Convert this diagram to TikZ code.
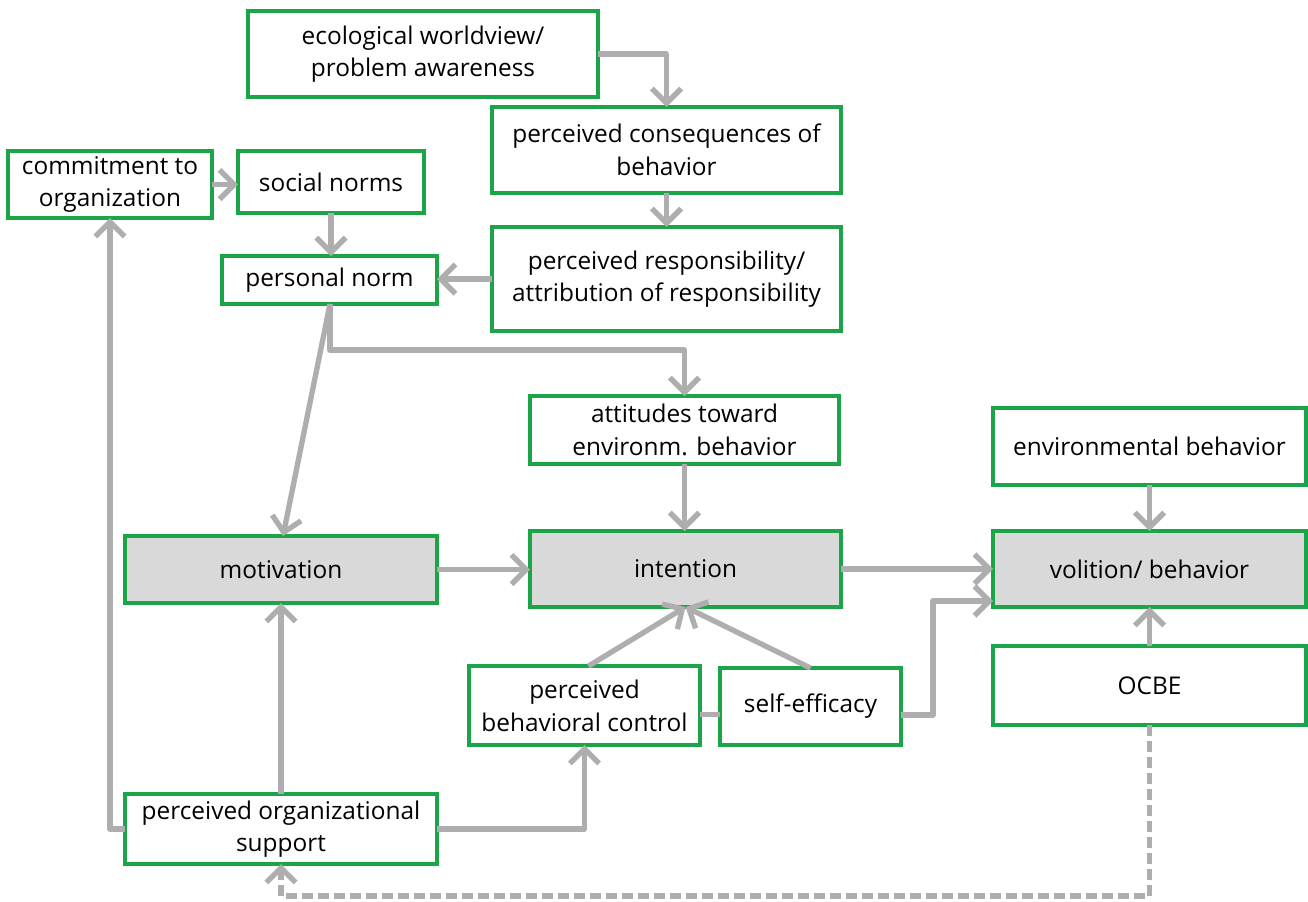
\documentclass[tikz,border=0pt]{standalone}
\usepackage{fontspec}
\setmainfont{Open Sans}
\usetikzlibrary{arrows.meta,calc}
\definecolor{bgreen}{HTML}{1BA548}
\definecolor{lgray}{HTML}{AEAEAF}
\definecolor{bfill}{HTML}{D9D9D9}
\newcommand\mybox[7]{%
 \pgfmathsetmacro\cx{(#3+#5)/2}\pgfmathsetmacro\cy{(#4+#6)/2}%
 \pgfmathsetmacro\bw{(#5-#3)*0.75}\pgfmathsetmacro\bh{(#6-#4)*0.75}%
 \node[#1, minimum width=\bw pt, minimum height=\bh pt] (#2) at (\cx,\cy) {#7};}
\begin{document}
\begin{tikzpicture}[x=0.75pt,y=-0.75pt,
  box/.style={draw=bgreen, line width=2.3pt, fill=white, inner sep=0pt, outer sep=0pt,
    align=center, font=\fontsize{18.3}{24.5}\selectfont, text=black},
  gbox/.style={box, fill=bfill},
  conn/.style={draw=lgray, line width=4pt, line join=round,
    -{Straight Barb[length=11pt,width=22pt,line width=4pt]}},
  line/.style={draw=lgray, line width=4pt, line join=round},
  dconn/.style={conn, dash pattern=on 8pt off 4pt}]
\useasboundingbox (0,0) rectangle (1308,901);
\mybox{box}{eco}{248}{11}{598}{97}{ecological worldview/\\problem awareness}
\mybox{box}{cons}{492}{107}{841}{193}{perceived consequences of\\behavior}
\mybox{box}{resp}{492}{227}{841}{331}{perceived responsibility/\\attribution of responsibility}
\mybox{box}{com}{8}{151}{212}{218}{commitment to\\organization}
\mybox{box}{sn}{238}{151}{424}{213}{social norms}
\mybox{box}{pn}{222}{256}{437}{304}{personal norm}
\mybox{box}{att}{530}{396}{839}{464}{attitudes toward\\environm. behavior}
\mybox{box}{env}{993}{408}{1306}{485}{environmental behavior}
\mybox{gbox}{mot}{125}{536}{437}{603}{motivation}
\mybox{gbox}{int}{530}{531}{841}{607}{intention}
\mybox{gbox}{vol}{993}{531}{1306}{607}{volition/ behavior}
\mybox{box}{pbc}{469}{666}{700}{745}{perceived\\behavioral control}
\mybox{box}{se}{720}{668}{901}{745}{self-efficacy}
\mybox{box}{ocbe}{993}{646}{1306}{725}{OCBE}
\mybox{box}{pos}{125}{794}{437}{864}{perceived organizational\\support}

\coordinate (pnb) at (330,304);
\coordinate (pnbr) at (330,350);
\coordinate (dcorner) at (1149.5,896);
\coordinate (secorner) at (933,715);

\draw[conn] (eco.east) -| (cons.north);
\draw[conn] (cons.south) -- (resp.north);
\draw[conn] (resp.west) -- (resp.west -| pn.east);
\draw[conn] (com.east) -- (com.east -| sn.west);
\draw[conn] (sn.south) -- (sn.south |- pn.north);
\draw[conn] (pnb) -- (pnbr) -| (att.north);
\draw[conn] (pnb) -- ($(mot.north)+(2,0)$);
\draw[conn] (att.south) -- (att.south |- int.north);
\draw[conn] (mot.east) -- (mot.east -| int.west);
\draw[conn] (int.east) -- (int.east -| vol.west);
\draw[conn] (env.south) -- (vol.north);
\draw[conn] (ocbe.north) -- (vol.south);
\draw[conn] ($(pbc.north)+(4,0)$) -- (int.south);
\draw[conn] (se.north) -- (int.south);
\draw[line] ($(pbc.east)+(0,9)$) -- ($(se.west)+(0,8)$);
\draw[conn] ($(se.east)+(0,8.5)$) -- (secorner) |- ($(vol.west)+(0,32)$);
\draw[conn] (pos.north) -- (mot.south);
\draw[conn] (pos.west) -| (com.south);
\draw[conn] (pos.east) -| (pbc.south);
\draw[dconn] (ocbe.south) -- (dcorner) -| (pos.south);
\end{tikzpicture}
\end{document}
